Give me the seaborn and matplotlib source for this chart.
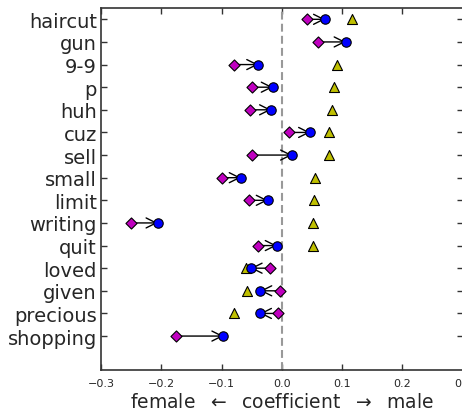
import numpy as np
import pandas as pd
import matplotlib
matplotlib.use("Agg")
import matplotlib.pyplot as plt
import seaborn as sns

words = ["haircut", "gun", "9-9", "p", "huh", "cuz", "sell", "small", "limit",
         "writing", "quit", "loved", "given", "precious", "shopping"]
start_vals = [0.0415, 0.0607, -0.080, -0.0498, -0.053, 0.0126, -0.0493, -0.0985,
              -0.0547, -0.250, -0.0393, -0.0194, -0.0023, -0.0056, -0.175]
end_vals = [0.0718, 0.106, -0.039, -0.0149, -0.0177, 0.047, 0.0171, -0.068,
            -0.0232, -0.206, -0.0083, -0.052, -0.036, -0.0365, -0.0968]
tri_vals = [0.116, np.nan, 0.0917, 0.0872, 0.0834, 0.079, 0.078, 0.0552,
            0.053, 0.052, 0.0514, -0.059, -0.058, -0.0796, np.nan]
xticks = [-0.3, -0.2, -0.1, 0.0, 0.1, 0.2, 0.3]

sns.set_style("ticks")
plt.rcParams.update({
    "font.family": ["DejaVu Sans"],
    "xtick.direction": "in", "ytick.direction": "in",
    "xtick.top": True, "ytick.right": True,
    "axes.linewidth": 1.2, "axes.edgecolor": "#333333",
})

n = len(words)
ypos = np.arange(n)[::-1]
df = pd.DataFrame({"word": words, "y": ypos, "start": start_vals,
                   "end": end_vals, "tri": tri_vals})

fig = plt.figure(figsize=(4.62, 4.14), dpi=100)
ax = fig.add_axes([101 / 462, 43 / 414, 361.7 / 462, 362 / 414])

ax.axvline(0.0, color="#999999", lw=1.5, ls=(0, (3.8, 2.0)), zorder=1)

for _, r in df.iterrows():
    ax.annotate("", xy=(r["end"], r["y"]), xytext=(r["start"], r["y"]),
                arrowprops=dict(arrowstyle="->", color="black", lw=1.0,
                                shrinkA=0, shrinkB=0, mutation_scale=18),
                zorder=2)

sns.scatterplot(data=df, x="tri", y="y", marker="^", color=(0.75, 0.75, 0),
                edgecolor="black", linewidth=0.8, s=52, ax=ax, zorder=3)
sns.scatterplot(data=df, x="start", y="y", marker="D", color=(0.75, 0, 0.75),
                edgecolor="black", linewidth=0.8, s=32, ax=ax, zorder=4)
sns.scatterplot(data=df, x="end", y="y", marker="o", color=(0, 0, 1),
                edgecolor="black", linewidth=0.8, s=46, ax=ax, zorder=5)

ax.set_xlim(-0.3, 0.3)
ax.set_ylim(-1.5, n - 0.5)
ax.set_xticks(xticks)
ax.set_xticklabels([f"{t:.1f}".replace("-", "\u2212") for t in xticks], fontsize=8)
ax.set_yticks(ypos)
ax.set_yticklabels(words, fontsize=14)
ax.tick_params(axis="both", length=4, width=1, color="#333333")
ax.tick_params(axis="y", pad=3)
ax.tick_params(axis="x", pad=6)
ax.set_ylabel("")
ax.set_xlabel("female  $\\leftarrow$  coefficient  $\\rightarrow$  male", fontsize=13.5, labelpad=3)
for s in ax.spines.values():
    s.set_visible(True)

fig.savefig("out.png", dpi=100)
